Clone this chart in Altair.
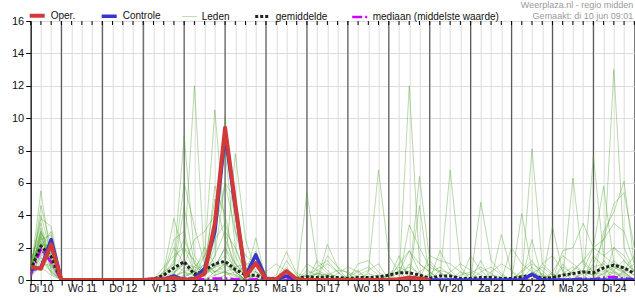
import json
import altair as alt
import pandas as pd

# six-hourly steps from Di 10 06:00 (hours since Di 10 00:00)
hours = list(range(6, 361, 6))
day_labels = ["Di 10", "Wo 11", "Do 12", "Vr 13", "Za 14", "Zo 15", "Ma 16", "Di 17",
              "Wo 18", "Do 19", "Vr 20", "Za 21", "Zo 22", "Ma 23", "Di 24"]
day_starts = [24, 48, 72, 96, 120, 144, 168, 192, 216, 240, 264, 288, 312, 336]
y_ticks = [0, 2, 4, 6, 8, 10, 12, 14, 16]

SERIES = ["Oper.", "Controle", "Leden", "gemiddelde", "mediaan (middelste waarde)"]
COLORS = ["#d23a3a", "#3535d0", "#4fa52c", "#222222", "#cc00ff"]
WIDTHS = [4, 3.5, 1, 3, 2.5]
DASHES = [[1, 0], [1, 0], [1, 0], [3, 2], [10, 3, 2, 3]]
OPAC = [1, 1, 0.42, 1, 1]

# operational run (10 days)
oper = [0.8, 0.7, 2.2, 0, 0, 0, 0, 0, 0, 0, 0, 0, 0.05, 0.05, 0.15, 0, 0.05, 0.4, 3.5,
        9.4, 4.7, 0.2, 1.05, 0.05, 0.05, 0.55, 0.05, 0, 0, 0, 0, 0, 0, 0, 0, 0, 0.05, 0.15, 0.1, 0]
controle = [0.65, 0.75, 2.5, 0, 0, 0, 0, 0, 0, 0, 0, 0, 0.05, 0.05, 0.25, 0, 0.1, 0.7, 3.0,
            9.0, 4.5, 0.25, 1.55, 0.05, 0.05, 0.25, 0.02, 0, 0, 0, 0, 0, 0, 0, 0, 0, 0, 0, 0,
            0, 0, 0, 0, 0, 0, 0, 0, 0, 0, 0.35, 0, 0, 0, 0, 0, 0, 0, 0, 0, 0]
gemiddelde = [0.6, 2.1, 1.45, 0, 0, 0, 0, 0, 0, 0, 0, 0, 0.05, 0.3, 0.75, 1.13, 0.35, 0.6, 1.0,
              1.15, 0.65, 0.3, 0.3, 0.1, 0.1, 0.2, 0.1, 0.2, 0.15, 0.2, 0.15, 0.1, 0.15, 0.15, 0.2,
              0.3, 0.45, 0.45, 0.3, 0.1, 0.25, 0.25, 0.1, 0.1, 0.15, 0.15, 0.1, 0.1, 0.2, 0.3, 0.1,
              0.15, 0.3, 0.4, 0.5, 0.45, 0.75, 0.92, 0.75, 0.4]
mediaan = [0.3, 1.9, 1.1, 0, 0, 0, 0, 0, 0, 0, 0, 0, 0, 0, 0.05, 0.1, 0.05, 0.05, 0.1,
           0.1, 0.05, 0, 0.05, 0, 0, 0, 0, 0, 0, 0, 0, 0, 0, 0, 0, 0, 0.05, 0.05, 0,
           0, 0, 0, 0, 0, 0, 0, 0, 0, 0.05, 0.05, 0, 0, 0, 0.05, 0.1, 0.05, 0.15, 0.2, 0.1, 0.05]

leden = [
    [0.5,5.5,1.2, 0,0,0,0, 0,0,0,0, 0,0,0.2,1.0, 8.9,1.5,0.5,0.8, 2.0,1.0,0.3,0, 0,0,0.2,0, 0,0,0,0, 0,0,0.2,0, 0.3,0.5,1.8,0.5, 0,0,0,0, 0,0,0.3,0.2, 0,0,0.5,0.2, 0,0,0,0.4, 0.8,1.0,13.0,2.0, 0.5],
    [0.3,4.6,2.0, 0,0,0,0, 0,0,0,0, 0,0,0.5,3.8, 1.5,12.0,0.8,0.3, 0.5,0.2,0,0, 0,0.3,1.75,0.4, 0.2,0.4,0.3,0, 0,0,0,0, 0,0,0,0, 0,0,0,0.3, 0.5,0,0,0, 0,0,0,0, 0,0,0.5,1.2, 2.0,5.8,1.0,0.5, 0],
    [0.8,3.8,3.3, 0.1,0,0,0, 0,0,0,0, 0,0,0,0.3, 0.5,0.8,1.5,10.5, 3.0,0.5,0,0, 0,0,0,0, 0,0,2.2,0.8, 0.4,0,0,0, 0,0,0,0, 0,0,0,0, 0,0,0,0, 0,0,8.1,1.0, 0.4,0,0,0, 0,0.5,1.2,0.6, 0.3],
    [1.2,3.0,1.5, 0,0,0,0, 0,0,0,0, 0,0,0.3,1.2, 2.5,1.0,0.5,2.0, 10.1,3.0,0.5,0.2, 0,0,0,0, 5.4,1.0,0.4,0.2, 0,0,0,0, 0,0,0,0, 0,0,0,0, 0,0,0,0, 0,0,0,0, 0,0,0,0.5, 0.3,0.6,0.4,0.2, 0],
    [0.4,2.8,0.6, 0,0,0,0, 0,0,0,0, 0,0,0.2,0.8, 6.0,3.3,1.0,0.5, 0.8,7.8,2.5,0.5, 0,0,0,0, 0,0,0,0, 0,0,0.5,6.8, 1.5,0.5,0,0, 0,0,0,0, 0,0,0,0, 0,0.3,0,0, 0,0,0,0, 1.0,2.5,4.7,5.4, 2.0],
    [0.6,2.5,2.8, 0,0,0.1,0, 0,0,0,0, 0,0.1,0.4,2.5, 3.0,0.5,0.3,5.8, 4.0,1.0,0.2,2.6, 0,0,0,0, 0,0,0,0, 0,0,0,0, 0,0,12.0,1.0, 0.5,0,0,0, 0,0,0,0, 0,0,0,0, 0,0,0,0, 0,0,0.6,1.2, 0.5],
    [0.2,2.2,1.0, 0,0,0,0, 0,0,0,0, 0,0,0,0.5, 1.0,2.5,3.0,4.0, 8.0,2.0,0.5,0, 0,0,1.2,0.3, 0,0,0,0, 0,0,0,0, 0,0,0,0, 0,0,6.8,0.8, 0,0,0,0, 0,0,0,0, 0,0,0,0, 0,0,0,0, 0],
    [0.9,2.0,0.4, 0,0,0,0, 0,0,0,0, 0,0,0,0.2, 0.5,0.3,1.5,3.0, 6.0,5.0,1.0,0.5, 0.2,0,0,0, 0,0,0,0, 0,0,0,0, 0,0,0,0, 0,0,0,0, 0,4.8,1.2,0.4, 0,0,0,0, 0,0,0,0, 0,0,0,0.5, 1.0],
    [1.5,1.8,2.2, 0,0,0,0, 0,0,0,0, 0,0,0,0, 0.3,0.5,0.2,1.5, 3.0,2.0,0.3,1.8, 0.3,0,0,0, 0,0,0,0, 0,0,0,0, 0,0,0,6.4, 1.2,0.5,0,0, 0,0,0,0, 0,0,0,0, 0,0,0,0, 0,0,0,0, 0],
    [0.3,1.5,1.8, 0,0,0,0, 0,0,0,0, 0,0,0.8,1.5, 2.0,1.2,0.4,0.8, 2.0,0.5,0.8,0.2, 0,0,0,0, 0,0,0,0, 0,0,0,0, 0,0,0,0, 0,0,0,0, 0,0,0,2.8, 0.5,0,0,0, 0,0,6.3,1.0, 0.5,0,0,0, 0],
    [0.7,2.6,1.1, 0,0,0,0, 0,0,0,0, 0,0,0,0.4, 1.2,0.5,2.0,1.0, 0.5,0.3,0,0, 0,0,0,0, 1.0,0.6,1.0,0.5, 0,0,0,0, 0,0,0,0, 0,0,0,0, 0,0,0,0, 0,4.1,0.6,0, 0,0,0,0, 7.65,1.5,1.0,0.5, 0],
    [0.5,3.2,0.8, 0,0,0,0, 0,0,0,0, 0,0,0,0, 0.2,0.5,0.3,1.0, 1.5,0.8,1.0,1.0, 0,0,0,0, 0,0,0,0, 0,0,0,0, 0,0,0,4.6, 0,0,0,0, 0,0,0,0, 0,0,0,0, 3.3,0.5,0,0, 0,0,0,0.6, 1.5],
    [0.1,1.2,0.5, 0,0,0,0, 0,0,0,0, 0,0,0,0, 0,0,0,0.5, 1.0,0.3,0,0, 0,0,0.8,0, 0,0,0,0, 0,1.0,1.2,0.5, 0,0,0,0, 0,0,0,0, 0,0,0,0, 0,0,0,0, 0,0,0,0, 0,3.0,4.2,6.1, 1.0],
    [0.8,2.0,1.4, 0,0,0,0, 0,0,0,0, 0,0,0.1,0.6, 4.5,1.0,0.3,2.5, 3.5,1.5,0.2,0, 0,0,0,0, 0,0,0,0, 0,0,0,0, 0,0,3.4,2.0, 0.8,0.5,0,0, 0,0,0,0, 0,0,0,0, 0,0,0,0, 0,0,0,0, 0],
    [0.4,1.6,2.5, 0,0,0,0, 0,0,0,0, 0,0,0,0, 0.8,0.3,1.0,5.0, 2.5,1.0,0.5,0.5, 0,0,0,0, 0,0,0,0, 0,0,0,0, 0,0,0,0, 0,1.8,0.6,0, 0,0,0,0, 0,0,0,0, 0,1.8,2.0,3.5, 2.0,1.5,2.0,1.2, 0.5],
    [1.0,3.5,1.0, 0,0,0,0, 0,0,0,0, 0,0,0.3,2.0, 1.0,0.8,0.5,1.5, 6.0,3.0,1.5,1.0, 0.5,1.0,0.5,0, 0,0.4,0.3,0, 0,0,0,0, 0,0,0,0, 0,0,0,0, 0,0,0,0, 0,0,0.4,0.8, 0.3,0,0,0, 0,0,0,0, 0],
    [0.6,2.3,1.7, 0,0,0,0, 0,0,0,0, 0,0,0,0, 0.2,0.5,1.0,0.5, 1.0,0.5,0,0, 0,0,0,0, 0,1.2,0.6,0, 0,0,0,0, 0,0,0,0, 1.5,1.2,1.0,0.5, 0,0,0,0, 0,0,2.5,0, 0,0,0,0, 0,0,0,0, 0],
    [0.3,0.8,0.3, 0,0,0,0, 0,0,0,0, 0,0,0,0, 0,0,0,0.3, 0.5,0,0,0, 0,0,0,0, 0.4,0.6,0.3,0, 0.2,0.5,0.8,0.3, 0,0,0,0, 0.4,0.8,0.3,0, 0,0,0,0, 2.0,1.0,0.5,0, 0,0.4,0.8,0.5, 0.3,1.0,0.5,0, 0],
    [0.5,2.9,2.0, 0,0,0,0, 0,0,0,0, 0,0,0,0.3, 2.0,0.5,0.3,0.8, 1.0,0.5,0,0, 0,0,0,0, 0.6,0.3,0,0, 0,0.3,0.6,1.0, 0,0,1.0,0.3, 0,0,0.5,1.0, 0.6,0.3,0,0, 0,0,0,0, 0.5,1.5,1.0,0.5, 0,0,0.8,0.4, 0],
    [1.1,1.9,1.2, 0,0,0,0, 0,0,0,0, 0,0,0,0, 0,0,0.5,0.5, 0.5,0.8,0.3,0, 0,0,0,0, 0,0,0,0, 0,0,0,0, 0,1.0,1.8,1.0, 0.5,0,0,0, 0,0,0,0, 0,0,0,1.0, 1.5,0.6,0,0, 0,0,0,0, 0],
    [0.2,2.4,0.7, 0,0,0,0, 0,0,0,0, 0,0,0,0, 0,0,0,0, 0.3,0.5,0,0, 0,0,0,0, 0,0.8,1.2,0.5, 0,0,0,0, 0.3,0,0,0, 0,0,0,0, 0.4,0.8,0.4,0, 0,0.5,1.0,0.6, 0,0,0,0, 1.5,0.8,0,0, 0],
    [0.7,4.0,1.6, 0,0,0,0, 0,0,0,0, 0,0,0.5,1.0, 0.5,0,0,0, 0,0,0,0, 0,0,0,0, 0,0,0.3,0.6, 0.5,0.2,0,0, 0,0.5,0.8,0.4, 0,0,0,0, 1.5,0.6,0,0, 0,0,0,0.4, 0,1.0,0.3,0, 0,0.4,0.8,0.5, 0],
    [0.4,1.0,0.9, 0,0,0,0, 0,0,0,0, 0,0,0,0, 0,0.3,0,0, 0,0,0.5,0, 0,0,0,0, 0,0,1.5,0.8, 0,0,0,0, 0,0,0,0, 0,0,0,0, 0,0,0,0, 0,0,0,0, 0,0,0,0.6, 2.0,2.5,3.5,3.0, 1.0],
    [0.9,2.1,3.0, 0,0,0,0, 0,0,0,0, 0,0,0,0, 0,0,0,0, 0,0,0,0.5, 0,0,0,0, 0.3,0,0,0, 0,0,0.4,0.2, 0,1.5,0,0, 0.3,0,0,0, 0,0,0.5,1.0, 0.6,0,0,0, 0,0,0.6,1.2, 0.5,0.3,1.0,0.8, 0.3],
    [0.6,2.7,1.3, 0,0,0,0, 0,0,0,0, 0,0,0,0, 0,0,0,0, 0,0,0,0, 0,0,0,0, 0,0,0,0.4, 0.8,0.5,0,0, 0,0,0,0, 0,0.6,0.4,0, 0,1.2,0,0, 0,0,0.8,0.3, 0,0,0,0, 0,0,2.0,1.5, 0.5],
    [0.3,1.4,0.5, 0,0,0,0, 0,0,0,0, 0,0,0,0, 0,0,0,0, 0,0,0,0, 0,0,0,0, 0,0,0,0, 0,0,0,0, 0.4,0.8,0.5,0, 0,0,0,0.5, 0.3,0,0,0, 0,0,0,0, 0.4,0,0,0, 0,0,0.5,0.3, 0],
    [0.8,2.2,2.1, 0,0,0,0, 0,0,0,0, 0,0,0,0.4, 1.0,0.3,0,0, 0,0,0,0, 0,0,0,0, 0,0.5,0,0, 0,0,0,0, 0,0,0,0.5, 1.0,0.4,0,0, 0,0,0,0, 0,0.6,1.2,0.3, 0,0,0,0, 0,0,0,0, 0],
    [0.5,3.0,1.0, 0,0.1,0,0, 0,0,0,0, 0,0,0,0, 0,0,0,0, 0,0,0,0, 0,0,0,0, 0,0,0,0, 0.3,0.6,0,0, 0,0,0,0, 0,0,0,0, 0,0.5,0.8,0.3, 0,0,0,0, 0,0.8,0.4,0, 0,1.2,0.6,0, 0],
]

title_line1 = "Weerplaza.nl - regio midden"
title_line2 = "Gemaakt: di 10 jun 09:01"

rows = []
def add(series, member, values):
    for h, v in zip(hours, values):
        rows.append({"h": h, "v": v, "series": series, "member": member})

for k, m in enumerate(leden):
    add("Leden", "m%02d" % k, m)
add("mediaan (middelste waarde)", "med", mediaan)
add("gemiddelde", "mean", gemiddelde)
add("Controle", "ctrl", controle)
add("Oper.", "oper", oper)
df = pd.DataFrame(rows)

label_expr = ("(datum.value - 12) % 24 === 0 ? " + json.dumps(day_labels) +
              "[(datum.value - 12) / 24] : ''")

x_enc = alt.X("h:Q", scale=alt.Scale(domain=[6, 360], nice=False, zero=False),
              axis=alt.Axis(values=hours, labelExpr=label_expr, grid=True, gridColor="#dcdcdc",
                            tickSize=5, labelPadding=-2, labelOverlap=False, labelFlush=False,
                            labelFontSize=10.5, labelColor="#111111", domainColor="#000000",
                            tickColor="#000000", title=None))
y_enc = alt.Y("v:Q", scale=alt.Scale(domain=[0, 16], nice=False),
              axis=alt.Axis(values=y_ticks, grid=True, gridColor="#dcdcdc", tickSize=5,
                            labelPadding=2, labelFontSize=11, labelColor="#111111",
                            domainColor="#000000", tickColor="#000000", title=None))

common = dict(
    x=x_enc,
    y=y_enc,
    color=alt.Color("series:N", scale=alt.Scale(domain=SERIES, range=COLORS), title=None),
    strokeDash=alt.StrokeDash("series:N", scale=alt.Scale(domain=SERIES, range=DASHES), title=None),
    strokeWidth=alt.StrokeWidth("series:N", scale=alt.Scale(type="ordinal", domain=SERIES, range=WIDTHS), title=None),
    opacity=alt.Opacity("series:N", scale=alt.Scale(type="ordinal", domain=SERIES, range=OPAC), title=None),
    detail="member:N",
)

base = alt.Chart(df)
layers = []

day_rules = alt.Chart(pd.DataFrame({"h": day_starts})).mark_rule(
    color="#5a5a5a", strokeWidth=1.2).encode(x=x_enc)
top_ticks = alt.Chart(pd.DataFrame({"h": hours})).mark_rule(
    color="#000000", strokeWidth=1).encode(x=x_enc, y=alt.value(0), y2=alt.value(4))
layers += [day_rules, top_ticks]

for s in ["Leden", "mediaan (middelste waarde)", "gemiddelde", "Controle", "Oper."]:
    layers.append(base.transform_filter(alt.datum.series == s)
                  .mark_line(clip=True, strokeJoin="round").encode(**common))

t1 = alt.Chart(pd.DataFrame({"t": [title_line1]})).mark_text(
    align="right", baseline="alphabetic", fontSize=9, color="#9a9a9a").encode(
    text="t:N", x=alt.value(602.5), y=alt.value(-13.5))
t2 = alt.Chart(pd.DataFrame({"t": [title_line2]})).mark_text(
    align="right", baseline="alphabetic", fontSize=9, color="#9a9a9a").encode(
    text="t:N", x=alt.value(602.5), y=alt.value(-2))
layers += [t1, t2]

chart = alt.layer(*layers).properties(
    width=603.6, height=259,
    padding={"left": 30.7, "top": 21, "right": 0.7, "bottom": 20},
    autosize="none",
).configure(font="Liberation Sans").configure_view(
    stroke="#000000", strokeWidth=1
).configure_legend(
    orient="none", legendX=-3, legendY=-15, direction="horizontal",
    symbolType="stroke", symbolSize=225, labelFontSize=10, labelColor="#111111",
    columnPadding=19, labelOffset=4, padding=0,
)

chart.save("out.html", embed_options={"renderer": "svg", "actions": False})
